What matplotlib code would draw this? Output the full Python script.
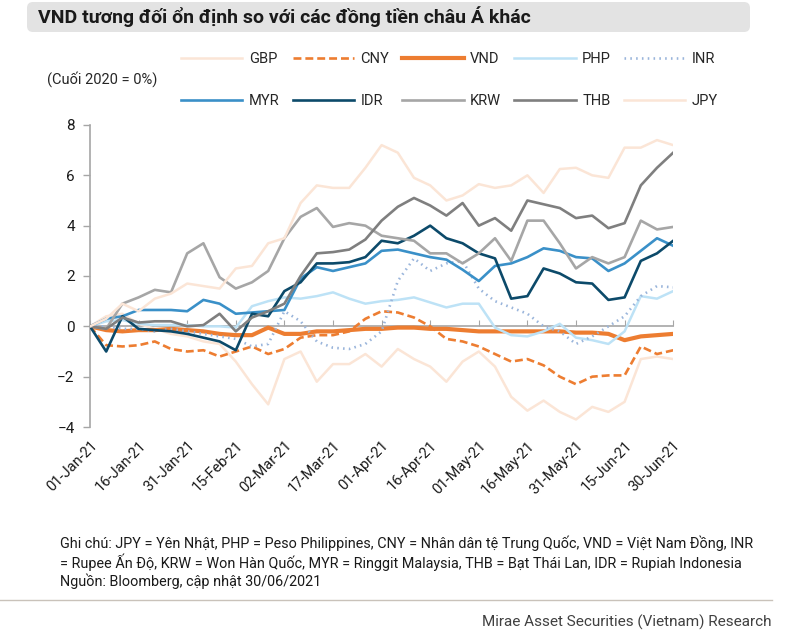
import matplotlib
matplotlib.use("Agg")
import matplotlib.pyplot as plt
import matplotlib.dates as mdates
from matplotlib.patches import FancyBboxPatch
from matplotlib.lines import Line2D
from matplotlib.transforms import IdentityTransform
import pandas as pd

plt.rcParams['font.family'] = ['Roboto', 'DejaVu Sans']

# du lieu doc tu bieu do (% thay doi so voi cuoi 2020), moi 5 ngay
dates = pd.date_range('2021-01-01', '2021-06-30', freq='5D')
tick_dates = pd.date_range('2021-01-01', '2021-06-30', freq='15D')

gbp = [0, 0.4, 0.5, 0.1, -0.1, -0.3, -0.4, -0.6, -0.7, -1.4, -2.3, -3.1, -1.3,
       -1.0, -2.2, -1.5, -1.5, -1.1, -1.6, -0.9, -1.3, -1.6, -2.2, -1.4, -1.0,
       -1.6, -2.8, -3.35, -2.95, -3.4, -3.7, -3.2, -3.4, -3.0, -1.3, -1.2, -1.3]
cny = [0, -0.75, -0.8, -0.75, -0.6, -0.9, -1.0, -0.95, -1.2, -1.0, -0.8, -1.1, -0.9,
       -0.45, -0.35, -0.35, -0.2, 0.3, 0.6, 0.55, 0.35, 0.0, -0.5, -0.6, -0.8,
       -1.1, -1.4, -1.3, -1.55, -2.0, -2.3, -2.0, -1.95, -1.95, -0.8, -1.1, -0.95]
vnd = [0, -0.15, -0.2, -0.15, -0.15, -0.1, -0.15, -0.2, -0.3, -0.35, -0.35, -0.05, -0.3,
       -0.3, -0.2, -0.2, -0.15, -0.1, -0.1, -0.05, -0.05, -0.1, -0.1, -0.15, -0.2,
       -0.2, -0.2, -0.2, -0.2, -0.2, -0.25, -0.25, -0.3, -0.55, -0.4, -0.35, -0.3]
php = [0, 0.2, 0.25, 0.1, 0.05, 0.05, 0.05, 0.0, 0.0, -0.05, 0.8, 1.0, 1.15,
       1.1, 1.2, 1.35, 1.1, 0.9, 1.0, 1.05, 1.15, 0.95, 0.75, 0.9, 0.9,
       -0.05, -0.35, -0.4, -0.2, 0.1, -0.45, -0.55, -0.7, -0.2, 1.2, 1.1, 1.4]
inr = [0, 0.0, -0.1, -0.1, -0.2, -0.1, -0.2, -0.3, -0.4, -0.5, -0.8, -0.7, 0.6,
       0.2, -0.6, -0.85, -0.9, -0.7, -0.2, 1.8, 2.7, 2.2, 2.5, 2.6, 1.5,
       1.0, 0.75, 0.5, 0.0, -0.2, -0.7, -0.4, 0.0, 0.4, 1.2, 1.6, 1.55]
myr = [0, 0.3, 0.4, 0.65, 0.65, 0.65, 0.6, 1.05, 0.9, 0.5, 0.55, 0.6, 0.65,
       1.9, 2.35, 2.2, 2.35, 2.5, 3.0, 3.05, 2.9, 2.75, 2.65, 2.25, 1.8,
       2.4, 2.5, 2.75, 3.1, 3.0, 2.75, 2.7, 2.2, 2.5, 3.0, 3.5, 3.2]
idr = [0, -1.0, 0.4, -0.1, -0.15, -0.2, -0.3, -0.45, -0.6, -0.95, 0.5, 0.4, 1.4,
       1.75, 2.5, 2.5, 2.55, 2.75, 3.4, 3.3, 3.6, 4.0, 3.5, 3.3, 2.9,
       2.7, 1.1, 1.2, 2.3, 2.1, 1.75, 1.7, 1.05, 1.15, 2.6, 2.9, 3.4]
krw = [0, -0.1, 0.9, 1.15, 1.45, 1.35, 2.9, 3.3, 1.95, 1.5, 1.75, 2.2, 3.5,
       4.35, 4.7, 3.95, 4.1, 4.0, 3.6, 3.5, 3.4, 2.9, 2.9, 2.5, 2.9,
       3.5, 2.6, 4.2, 4.2, 3.3, 2.3, 2.75, 2.5, 2.75, 4.2, 3.85, 3.95]
thb = [0, -0.1, 0.35, 0.15, 0.2, 0.2, 0.0, 0.05, 0.5, -0.2, 0.35, 0.6, 0.9,
       2.0, 2.9, 2.95, 3.05, 3.45, 4.2, 4.75, 5.1, 4.8, 4.4, 4.9, 4.0,
       4.3, 3.8, 5.0, 4.85, 4.7, 4.3, 4.4, 3.9, 4.1, 5.6, 6.3, 6.9]
jpy = [0, 0.3, 0.9, 0.6, 1.1, 1.3, 1.7, 1.6, 1.5, 2.3, 2.4, 3.3, 3.5,
       4.9, 5.6, 5.5, 5.5, 6.3, 7.2, 6.9, 5.9, 5.6, 5.0, 5.2, 5.65,
       5.5, 5.6, 6.0, 5.3, 6.25, 6.3, 6.0, 5.9, 7.1, 7.1, 7.4, 7.2]

series = [
    ('GBP', gbp, '#FBE5D6', '-', 1.8),
    ('CNY', cny, '#ED7D31', (0, (3.0, 1.5)), 1.9),
    ('VND', vnd, '#ED7D31', '-', 3.0),
    ('PHP', php, '#BDE2F6', '-', 1.8),
    ('INR', inr, '#9AB5DB', (0, (0.6, 1.6)), 1.9),
    ('MYR', myr, '#3A90C8', '-', 1.9),
    ('IDR', idr, '#0C4A6A', '-', 1.9),
    ('KRW', krw, '#A6A6A6', '-', 1.9),
    ('THB', thb, '#7F7F7F', '-', 1.9),
    ('JPY', jpy, '#FBE5D6', '-', 1.8),
]

fig = plt.figure(figsize=(8, 6.38), dpi=100)

# khung tieu de
box = FancyBboxPatch((27, 606), 723, 30, boxstyle="round,pad=0,rounding_size=6",
                     transform=IdentityTransform(), facecolor='#E3E3E3', edgecolor='none')
fig.add_artist(box)
fig.text(38 / 800, 1 - 17 / 638, 'VND tương đối ổn định so với các đồng tiền châu Á khác',
         fontsize=14, fontweight='bold', va='center', color='#1a1a1a')

ax = fig.add_axes([0.1125, 0.3307, 0.729, 0.4734])
handles = {}
for i, (name, vals, color, ls, lw) in enumerate(series):
    ln, = ax.plot(dates, vals, color=color, linestyle=ls, linewidth=lw,
                  label=name, zorder=2 + i, solid_joinstyle='round')
    handles[name] = ln

ax.set_ylim(-4, 8)
ax.set_yticks(range(-4, 9, 2))
ax.set_xlim(dates[0], dates[-1])
ax.set_xticks(tick_dates)
ax.xaxis.set_major_formatter(mdates.DateFormatter('%d-%b-%y'))
for lab in ax.get_xticklabels():
    lab.set_rotation(45)
    lab.set_ha('right')
    lab.set_rotation_mode('anchor')
ax.tick_params(axis='x', length=0, pad=8, labelsize=10.5, colors='#1a1a1a')
ax.tick_params(axis='y', length=5, width=1, color='#A6A6A6', labelsize=11, pad=6,
               labelcolor='#1a1a1a')
for s in ['top', 'right', 'bottom']:
    ax.spines[s].set_visible(False)
ax.spines['left'].set_color('#A6A6A6')
ax.spines['left'].set_linewidth(1.2)

# truc hoanh tai 0
y0 = (0 - ax.get_ylim()[0]) / (ax.get_ylim()[1] - ax.get_ylim()[0])
sec = ax.secondary_xaxis(y0)
sec.set_xticks(tick_dates)
sec.set_xticklabels([])
sec.tick_params(direction='in', length=4, color='#A6A6A6')
sec.spines['bottom'].set_color('#A6A6A6')
sec.spines['bottom'].set_linewidth(1.2)

order = ['GBP', 'MYR', 'CNY', 'IDR', 'VND', 'KRW', 'PHP', 'THB', 'INR', 'JPY']
fig.legend([handles[k] for k in order], order, ncol=5, loc='upper left',
           bbox_to_anchor=(181 / 800, 1 - 52 / 638), frameon=False, fontsize=10.5,
           handlelength=4.2, handletextpad=0.45, columnspacing=0.9,
           labelspacing=1.95, borderpad=0, borderaxespad=0, labelcolor='#262626')

fig.text(47 / 800, 1 - 79 / 638, '(Cuối 2020 = 0%)', fontsize=10.5, va='center',
         color='#262626')

notes = ['Ghi chú: JPY = Yên Nhật, PHP = Peso Philippines, CNY = Nhân dân tệ Trung Quốc, VND = Việt Nam Đồng, INR',
         '= Rupee Ấn Độ, KRW = Won Hàn Quốc, MYR = Ringgit Malaysia, THB = Bạt Thái Lan, IDR = Rupiah Indonesia',
         'Nguồn: Bloomberg, cập nhật 30/06/2021']
for k, t in enumerate(notes):
    fig.text(60 / 800, 1 - (543 + 19 * k) / 638, t, fontsize=10.4, va='center', color='#1a1a1a')

fig.add_artist(Line2D([0, 772 / 800], [1 - 600 / 638] * 2, transform=fig.transFigure,
                      color='#C9C2BA', linewidth=1))
fig.text(772 / 800, 1 - 622 / 638, 'Mirae Asset Securities (Vietnam) Research',
         fontsize=11, ha='right', va='center', color='#404040')

fig.savefig('out.png', dpi=100)
